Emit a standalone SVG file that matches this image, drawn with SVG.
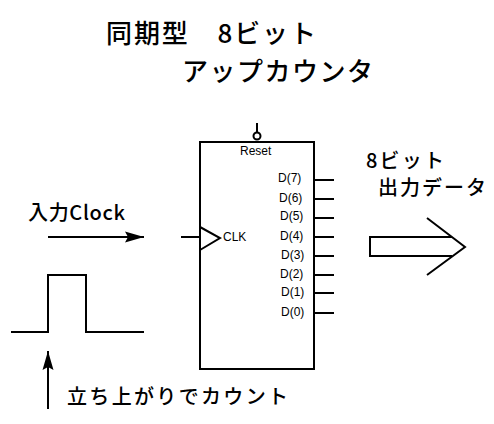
<svg xmlns="http://www.w3.org/2000/svg" width="494" height="424" viewBox="0 0 494 424">
<style>
.l{fill:none;stroke:#000;stroke-width:2}
.j{font-family:"Noto Sans CJK JP","DejaVu Sans",sans-serif;fill:#000;font-weight:500}
.t{font-size:26px}
.m{font-size:20px}
.s{font-family:"Liberation Sans",Arial,sans-serif;font-size:12px;fill:#000}
</style>
<defs>
<marker id="a" markerUnits="userSpaceOnUse" markerWidth="20" markerHeight="12" refX="19" refY="6" orient="auto"><path d="M0 .5L19 6L0 11.5L3 6Z"/></marker>
</defs>
<rect width="494" height="424" fill="#fff"/>
<g id="title">
<text class="j t" x="106" y="43" textLength="210" lengthAdjust="spacing">同期型　8ビット</text>
<text class="j t" x="182" y="81" textLength="191" lengthAdjust="spacing">アップカウンタ</text>
</g>
<g id="counter">
<rect class="l" x="200" y="142" width="114" height="227"/>
<path class="l" d="M200 227L220 238L200 250"/>
<circle class="l" cx="257" cy="136" r="3.5"/>
<text class="s" x="240" y="155" font-size="11">Reset</text>
<text class="s" x="223" y="241">CLK</text>
<text class="s" x="278" y="182">D(7)</text>
<text class="s" x="279" y="202">D(6)</text>
<text class="s" x="280" y="220">D(5)</text>
<text class="s" x="280" y="240">D(4)</text>
<text class="s" x="281" y="259">D(3)</text>
<text class="s" x="280" y="278">D(2)</text>
<text class="s" x="281" y="296">D(1)</text>
<text class="s" x="281" y="316">D(0)</text>
</g>
<g id="connectors">
<path class="l" d="M257 123V132M181 237H200M314 180H334M314 199H334M314 218H334M314 237H334M314 256H334M314 275H334M314 293H334M314 313H334"/>
<path class="l" d="M48 237H144" marker-end="url(#a)"/>
<path class="l" d="M48 409V351" marker-end="url(#a)"/>
</g>
<g id="clock-pulse">
<path class="l" d="M11 332H48V275H86V332H144"/>
<text class="j" x="28" y="220" font-size="20" textLength="97">入力Clock</text>
<text class="j m" x="67" y="404" textLength="221">立ち上がりでカウント</text>
</g>
<g id="output">
<text class="j" x="366" y="168" font-size="20" textLength="78">8ビット</text>
<text class="j m" x="378" y="195" textLength="108">出力データ</text>
<path class="l" d="M452 237H370V256H452M427 218L465 247L427 275"/>
</g>
</svg>
